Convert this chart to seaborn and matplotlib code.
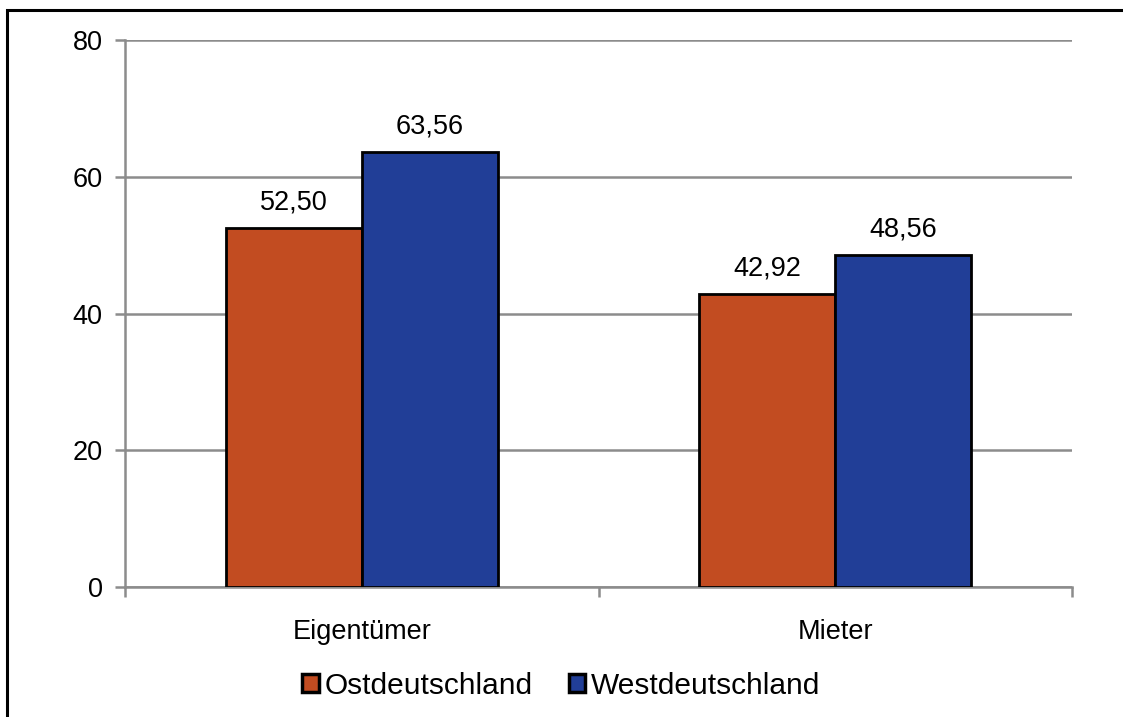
import pandas as pd
import seaborn as sns
import matplotlib.pyplot as plt
from matplotlib.patches import Rectangle

# Werte aus dem Diagramm
categories = ["Eigentümer", "Mieter"]
regions = ["Ostdeutschland", "Westdeutschland"]
ost_values = [52.50, 42.92]
west_values = [63.56, 48.56]
colors = ["#C24C21", "#213E97"]

df = pd.DataFrame({
    "Kategorie": categories * 2,
    "Region": [regions[0]] * 2 + [regions[1]] * 2,
    "Wert": ost_values + west_values,
})

sns.set_theme(style="white")
plt.rcParams["font.family"] = ["Liberation Sans", "DejaVu Sans"]
plt.rcParams["text.color"] = "black"

fig = plt.figure(figsize=(11.23, 7.17), dpi=100)
W, H = 1123, 717
ax = fig.add_axes([125 / W, 1 - 587 / H, (1072 - 125) / W, (587 - 40) / H])

sns.barplot(data=df, x="Kategorie", y="Wert", hue="Region", palette=colors,
            width=0.575, edgecolor="black", linewidth=2.0, saturation=1,
            ax=ax, legend=True, zorder=3)

grid_col = "#8C8C8C"
fs = 19.5
ax.set_ylim(0, 80)
ax.set_xlim(-0.5, 1.5)
ax.set_yticks([0, 20, 40, 60, 80])
ax.yaxis.grid(True, color=grid_col, linewidth=1.8, zorder=0)
ax.set_axisbelow(True)
ax.set_xlabel("")
ax.set_ylabel("")
for s in ["top", "right"]:
    ax.spines[s].set_visible(False)
for s in ["left", "bottom"]:
    ax.spines[s].set_color(grid_col)
    ax.spines[s].set_linewidth(1.8)

ax.tick_params(axis="y", which="major", left=True, length=7, width=1.8,
               color=grid_col, labelsize=fs, pad=9, labelcolor="black")
ax.tick_params(axis="x", which="major", bottom=False, labelsize=fs, pad=17,
               labelcolor="black")
ax.set_xticks([-0.5, 0.5, 1.5], minor=True)
ax.tick_params(axis="x", which="minor", bottom=True, length=7, width=1.8,
               color=grid_col)

for cont in ax.containers:
    ax.bar_label(cont, labels=[f"{v:.2f}".replace(".", ",") for v in cont.datavalues],
                 padding=9, fontsize=fs, color="black")

handles, labels = ax.get_legend_handles_labels()
ax.get_legend().remove()
for h in handles:
    h.set_linewidth(2.5)
fig.legend(handles, labels, loc="center", bbox_to_anchor=(0.5, 1 - 686 / H),
           ncol=2, frameon=False, fontsize=21.5, handlelength=0.55, handleheight=0.55,
           handletextpad=0.2, columnspacing=1.2)

# Rahmen um das Diagramm
fig.patches.append(Rectangle((7 / W, -0.1), 1.2, 1 - 10 / H + 0.1,
                             transform=fig.transFigure, fill=False,
                             edgecolor="black", linewidth=2.2))

fig.savefig("out.png", dpi=100)
